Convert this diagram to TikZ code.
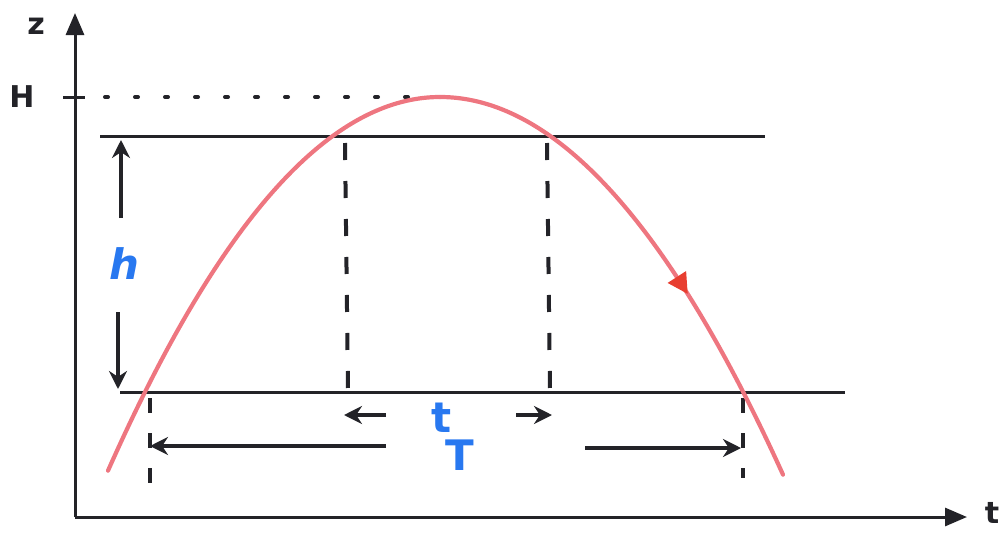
\documentclass[tikz,border=0pt]{standalone}
\usepackage{fontspec}
\setmainfont{DejaVu Sans}
\usetikzlibrary{arrows.meta,decorations.markings}
\definecolor{curvered}{RGB}{238,118,128}
\definecolor{tipred}{RGB}{232,62,48}
\definecolor{penblue}{RGB}{40,120,240}
\definecolor{ink}{RGB}{35,35,40}
\tikzset{
  axis/.style={ink,line width=3pt,-{Triangle[length=22pt,width=18pt]}},
  level/.style={ink,line width=3pt},
  guide/.style={ink,line width=4pt,dash pattern=on 17pt off 21pt},
  dimarrow/.style={ink,line width=3.4pt,-{Stealth[length=18pt,width=18pt]}},
  lab/.style={ink,font=\fontsize{30}{32}\selectfont\bfseries,inner sep=0pt},
  bluelab/.style={penblue,font=\fontsize{42}{44}\selectfont\bfseries,inner sep=0pt},
  traj/.style={curvered,line width=4.2pt,line cap=round}
}
\begin{document}
\begin{tikzpicture}[x=1pt,y=-1pt]
\useasboundingbox (0,0) rectangle (1007,536);
% coordinates
\coordinate (O) at (75,517);
\coordinate (ztop) at (75,13);
\coordinate (tend) at (967,517);
\coordinate (Htick1) at (63,97);
\coordinate (Htick2) at (85,97);
\coordinate (Hdot1) at (105,97);
\coordinate (Hdot2) at (432,97);
\coordinate (up1) at (100,136);
\coordinate (up2) at (765,136);
\coordinate (lo1) at (120,392);
\coordinate (lo2) at (845,392);
\coordinate (d1a) at (345,143);
\coordinate (d1b) at (348,392);
\coordinate (d2a) at (547,143);
\coordinate (d2b) at (550,392);
\coordinate (d3a) at (150,398);
\coordinate (d3b) at (150,495);
\coordinate (d4a) at (743,398);
\coordinate (d4b) at (743,478);
\coordinate (ha1) at (121,218);
\coordinate (ha2) at (121,140);
\coordinate (hb1) at (118,312);
\coordinate (hb2) at (118,389);
\coordinate (ta1) at (386,415);
\coordinate (ta2) at (344,415);
\coordinate (tb1) at (516,415);
\coordinate (tb2) at (552,415);
\coordinate (Ta1) at (386,446);
\coordinate (Ta2) at (150,446);
\coordinate (Tb1) at (585,448);
\coordinate (Tb2) at (741,448);
% axes
\draw[axis] (O) -- (ztop);
\draw[axis] (O) -- (tend);
\node[lab] (zlab) at (36,26) {z};
\node[lab] (tlab) at (992,513) {t};
\node[lab] (Hlab) at (22,97) {H};
\draw[level] (Htick1) -- (Htick2);
\draw[ink,line width=4pt,line cap=round,dash pattern=on 3pt off 27pt] (Hdot1) -- (Hdot2);
% levels
\draw[level] (up1) -- (up2);
\draw[level] (lo1) -- (lo2);
% dashed guides
\draw[guide] (d1a) -- (d1b);
\draw[guide] (d2a) -- (d2b);
\draw[ink,line width=4pt,dash pattern=on 15pt off 20pt] (d3a) -- (d3b);
\draw[ink,line width=4pt,dash pattern=on 15pt off 20pt] (d4a) -- (d4b);
% trajectory
\draw[traj] plot[domain=108:440,samples=60,smooth] (\x,{97+33.9*((\x-440)/100)^2});
\draw[traj,postaction={decorate},decoration={markings,
   mark=at position 0.6 with {\fill[tipred] (9pt,0) -- (-11pt,11pt) -- (-11pt,-11pt) -- cycle;}}]
   plot[domain=440:783,samples=60,smooth] (\x,{97+32.1*((\x-440)/100)^2});
% h dimension
\draw[dimarrow] (ha1) -- (ha2);
\draw[dimarrow] (hb1) -- (hb2);
\node[bluelab,font=\fontsize{42}{44}\selectfont\itshape\bfseries] (hlab) at (124,264) {h};
% t dimension
\draw[dimarrow] (ta1) -- (ta2);
\draw[dimarrow] (tb1) -- (tb2);
\node[bluelab] (tblue) at (442,418) {t};
% T dimension
\draw[dimarrow] (Ta1) -- (Ta2);
\draw[dimarrow] (Tb1) -- (Tb2);
\node[bluelab] (Tblue) at (460,455) {T};
\end{tikzpicture}
\end{document}
